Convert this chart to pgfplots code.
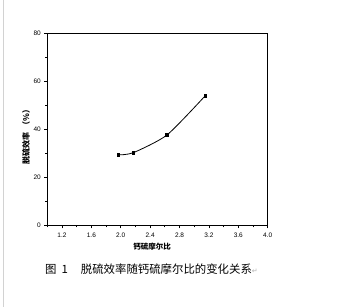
\documentclass[border=0pt]{standalone}
\usepackage{fontspec}
\setmainfont{Liberation Sans}
\newfontfamily\cjk{Noto Sans CJK SC}
\newfontfamily\dejavu{DejaVu Sans}
\usepackage{pgfplots}
\pgfplotsset{compat=1.18}
\begin{document}
\begin{tikzpicture}
\useasboundingbox[fill=white] (0,0) rectangle (342bp,307bp);
\draw[gray!35, line width=1bp] (3bp,0) -- (3bp,307bp);
\begin{axis}[
  at={(47.3bp,81.7bp)}, anchor=south west,
  scale only axis, width=220.4bp, height=192.3bp,
  xmin=1.0, xmax=4.0, ymin=0, ymax=80,
  xtick={1.2,1.6,2.0,2.4,2.8,3.2,3.6,4.0},
  minor xtick={1.0,1.4,1.8,2.2,2.6,3.0,3.4,3.8},
  ytick={0,20,40,60,80},
  minor ytick={10,30,50,70},
  xtick pos=left, ytick pos=left,
  tick align=outside,
  major tick length=3bp, minor tick length=2bp,
  every tick/.style={black, line width=0.7bp},
  axis line style={line width=0.9bp},
  /pgf/number format/assume math mode=true,
  xticklabel style={/pgf/number format/fixed, /pgf/number format/fixed zerofill, /pgf/number format/precision=1, font=\fontsize{6.5bp}{7bp}\selectfont},
  yticklabel style={font=\fontsize{6.5bp}{7bp}\selectfont},
  scaled x ticks=false,
  xticklabel shift=1bp, yticklabel shift=0bp,
  clip=false,
]
\addplot[black, line width=0.8bp, smooth, tension=0.4, mark=square*, mark size=1.2bp, mark options={solid, fill=black}]
  coordinates {(1.97,29.3) (2.17,30.2) (2.63,37.6) (3.15,53.9)};
\end{axis}
\node[rotate=90, font=\cjk\bfseries\fontsize{8bp}{9bp}\selectfont] at (26bp,172bp) {脱硫效率\ \ （\%）};
\node[font=\cjk\bfseries\fontsize{7.5bp}{8bp}\selectfont] at (152bp,60bp) {钙硫摩尔比};
\node[anchor=west, font=\cjk\fontsize{11.4bp}{12bp}\selectfont, inner sep=0pt] at (45bp,38bp) {图\hspace{5bp}1\hspace{13bp}脱硫效率随钙硫摩尔比的变化关系{\dejavu\color{gray!60}\fontsize{7bp}{8bp}\selectfont ↵}};
\end{tikzpicture}
\end{document}
